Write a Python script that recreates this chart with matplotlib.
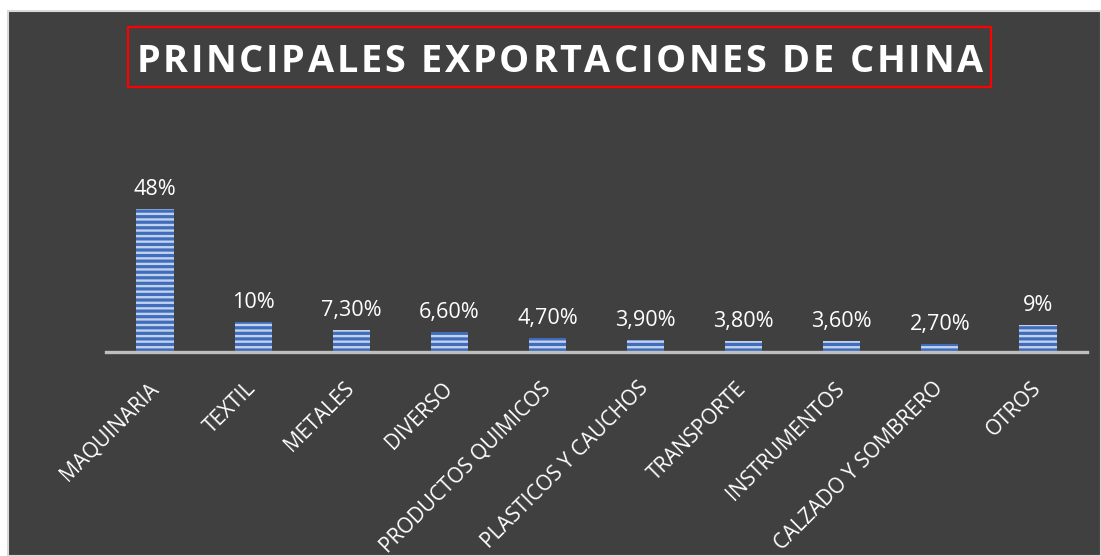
import matplotlib.pyplot as plt
from matplotlib.patches import Rectangle

# data
categorias = ["MAQUINARIA", "TEXTIL", "METALES", "DIVERSO", "PRODUCTOS QUIMICOS",
              "PLASTICOS Y CAUCHOS", "TRANSPORTE", "INSTRUMENTOS",
              "CALZADO Y SOMBRERO", "OTROS"]
valores = [48, 10, 7.3, 6.6, 4.7, 3.9, 3.8, 3.6, 2.7, 9]
etiquetas = ["48%", "10%", "7,30%", "6,60%", "4,70%", "3,90%", "3,80%",
             "3,60%", "2,70%", "9%"]
titulo = "PRINCIPALES EXPORTACIONES DE CHINA"

plt.rcParams['font.family'] = ['Open Sans', 'DejaVu Sans']
plt.rcParams['hatch.linewidth'] = 1.7

W, H = 1101, 556
fig = plt.figure(figsize=(W / 100, H / 100), dpi=100, facecolor='white')

# dark chart area with thin light border
fig.patches.append(Rectangle((8 / W, 0), 1 - 8 / W, 1 - 11 / H,
                             transform=fig.transFigure, facecolor='#404040',
                             edgecolor='#d9d9d9', linewidth=1.5, zorder=-5))

ax = fig.add_axes([106 / W, 1 - 352 / H, (1087 - 106) / W, (352 - 170) / H])
ax.set_facecolor('none')
ax.set_zorder(2)

x = range(len(categorias))
bars = ax.bar(x, valores, width=0.38, color='#3f6dbb', edgecolor='#c2d1ec',
              linewidth=0, hatch='---', zorder=2)

for b, txt in zip(bars, etiquetas):
    ax.annotate(txt, (b.get_x() + b.get_width() / 2, b.get_height()),
                xytext=(0, 6.5), textcoords='offset points', ha='center',
                va='bottom', color='white', fontsize=15.6)

ax.set_xlim(-0.5, len(categorias) - 0.5)
ax.set_ylim(0, 61.1)
ax.set_yticks([])
for s in ['top', 'left', 'right']:
    ax.spines[s].set_visible(False)
ax.spines['bottom'].set_color('#bfbfbf')
ax.spines['bottom'].set_linewidth(2.4)
ax.spines['bottom'].set_zorder(3)

ax.set_xticks(list(x))
ax.set_xticklabels(categorias, rotation=45, ha='right', va='center',
                   rotation_mode='anchor', color='white', fontsize=15.0)
ax.tick_params(axis='x', length=0, pad=24)

# title in red box, letter-spaced
fig.patches.append(Rectangle((128 / W, 1 - 87 / H), (991 - 128) / W, 60 / H,
                             transform=fig.transFigure, facecolor='none',
                             edgecolor='#ff0000', linewidth=1.6, zorder=1))
r = fig.canvas.get_renderer()
letras = []
anchos = []
for ch in titulo:
    t = fig.text(0, 0, ch if ch != ' ' else 'I', fontsize=27.3,
                 fontweight='bold', color='white')
    w = t.get_window_extent(r).width
    if ch == ' ':
        w = w * 0.8
        t.set_visible(False)
    letras.append(t)
    anchos.append(w)
espacio = 2.75
total = sum(anchos) + espacio * (len(titulo) - 1)
xpos = 559.5 - total / 2
for t, w in zip(letras, anchos):
    t.set_position((xpos / W, 1 - 72 / H))
    t.set_va('baseline')
    xpos += w + espacio

fig.savefig('out.png', dpi=100, facecolor='white')
